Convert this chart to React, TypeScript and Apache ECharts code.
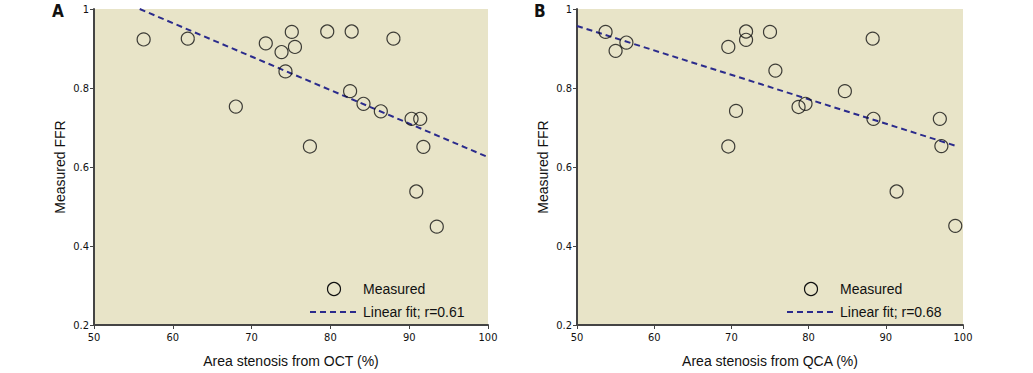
import React, { useEffect, useRef } from "react";
import * as echarts from "echarts";

// Panel A: OCT area stenosis vs measured FFR
const octStenosis = [56.3, 61.9, 68.0, 71.8, 73.8, 75.1, 75.5, 74.3, 77.4, 79.6, 82.7, 82.5, 84.2, 86.4, 88.0, 90.3, 91.4, 91.8, 90.9, 93.5];
const octFFR = [0.923, 0.925, 0.753, 0.913, 0.891, 0.942, 0.904, 0.842, 0.652, 0.943, 0.943, 0.792, 0.76, 0.741, 0.925, 0.722, 0.722, 0.651, 0.538, 0.449];
const octFitX = [55.8, 100];
const octFitY = [1.0, 0.625];

// Panel B: QCA area stenosis vs measured FFR
const qcaStenosis = [53.7, 55.0, 56.4, 69.6, 71.9, 71.9, 75.0, 75.7, 70.6, 69.6, 78.7, 79.6, 84.7, 88.3, 88.4, 97.0, 97.2, 91.4, 99.0];
const qcaFFR = [0.942, 0.894, 0.915, 0.904, 0.943, 0.922, 0.942, 0.844, 0.742, 0.652, 0.752, 0.76, 0.792, 0.925, 0.722, 0.722, 0.653, 0.538, 0.451];
const qcaFitX = [50, 99.0];
const qcaFitY = [0.957, 0.654];

const panelLetters = ["A", "B"];
const xNames = ["Area stenosis from OCT (%)", "Area stenosis from QCA (%)"];
const yName = "Measured FFR";
const legendNames = ["Measured", "Linear fit; r=0.61", "Linear fit; r=0.68"];

const BG = "#e8e4c8";
const AXIS = "#444444";
const FIT = "#2b2b8c";
const TICK_FONT = "'Liberation Sans Narrow', 'DejaVu Sans Condensed', sans-serif";
const NAME_FONT = "'Liberation Sans', Arial, sans-serif";

const zip = (xs: number[], ys: number[]) => xs.map((x, i) => [x, ys[i]]);

export default function App() {
  const ref = useRef<HTMLDivElement>(null);
  useEffect(() => {
    document.body.style.margin = "0";
    if (!ref.current) return;
    const chart = echarts.init(ref.current, null, { renderer: "svg" });

    const grids = [
      { left: 94, top: 9, width: 394, height: 320 },
      { left: 577, top: 9, width: 386, height: 320 },
    ];

    const xAxis = grids.map((_, i) => ({
      type: "value",
      gridIndex: i,
      min: 50,
      max: 100,
      interval: 10,
      name: xNames[i],
      nameLocation: "middle",
      nameGap: 29,
      nameTextStyle: { fontFamily: NAME_FONT, fontSize: 14, color: "#111" },
      axisLine: { show: true, onZero: false, lineStyle: { color: AXIS, width: 2 } },
      axisTick: { show: true, length: 4, lineStyle: { color: AXIS, width: 1 } },
      axisLabel: { fontFamily: TICK_FONT, fontSize: 11, color: "#111", margin: 7 },
      splitLine: { show: false },
    }));

    const yAxis = grids.map((_, i) => ({
      type: "value",
      gridIndex: i,
      min: 0.2,
      max: 1,
      interval: 0.2,
      name: yName,
      nameLocation: "middle",
      nameGap: 27,
      nameTextStyle: { fontFamily: NAME_FONT, fontSize: 14, color: "#111" },
      axisLine: { show: true, onZero: false, lineStyle: { color: AXIS, width: 2 } },
      axisTick: { show: true, length: 4, lineStyle: { color: AXIS, width: 1 } },
      axisLabel: { fontFamily: TICK_FONT, fontSize: 11, color: "#111", margin: 5 },
      splitLine: { show: false },
    }));

    const scatterStyle = {
      type: "scatter",
      symbol: "circle",
      symbolSize: 13,
      itemStyle: { color: "rgba(0,0,0,0)", borderColor: "#111", borderWidth: 1.2 },
    };
    const fitStyle = {
      type: "line",
      showSymbol: false,
      symbol: "none",
      lineStyle: { color: FIT, width: 2, type: [6, 4] },
    };

    const legend = (x0: number, label: string) => [
      {
        type: "circle",
        shape: { cx: x0 + 24, cy: 289, r: 6.5 },
        style: { fill: "none", stroke: "#111", lineWidth: 1.2 },
      },
      {
        type: "text",
        x: x0 + 53,
        y: 289,
        style: { text: legendNames[0], font: `14px ${NAME_FONT}`, fill: "#111", textVerticalAlign: "middle" },
      },
      {
        type: "line",
        shape: { x1: x0, y1: 312, x2: x0 + 48, y2: 312 },
        style: { stroke: FIT, lineWidth: 2, lineDash: [6, 4] },
      },
      {
        type: "text",
        x: x0 + 53,
        y: 312,
        style: { text: label, font: `14px ${NAME_FONT}`, fill: "#111", textVerticalAlign: "middle" },
      },
    ];

    chart.setOption({
      animation: false,
      grid: grids.map((g) => ({ ...g, show: true, backgroundColor: BG, borderWidth: 0 })),
      xAxis,
      yAxis,
      series: [
        { ...scatterStyle, xAxisIndex: 0, yAxisIndex: 0, data: zip(octStenosis, octFFR), z: 3 },
        { ...fitStyle, xAxisIndex: 0, yAxisIndex: 0, data: zip(octFitX, octFitY), z: 2 },
        { ...scatterStyle, xAxisIndex: 1, yAxisIndex: 1, data: zip(qcaStenosis, qcaFFR), z: 3 },
        { ...fitStyle, xAxisIndex: 1, yAxisIndex: 1, data: zip(qcaFitX, qcaFitY), z: 2 },
      ],
      graphic: [
        {
          type: "text",
          left: 52,
          top: 2,
          style: { text: panelLetters[0], font: `bold 17px ${TICK_FONT}`, fill: "#111" },
        },
        {
          type: "text",
          left: 534,
          top: 2,
          style: { text: panelLetters[1], font: `bold 17px ${TICK_FONT}`, fill: "#111" },
        },
        ...legend(310, legendNames[1]),
        ...legend(787, legendNames[2]),
      ],
    });
    return () => chart.dispose();
  }, []);
  return <div ref={ref} style={{ width: 1033, height: 373 }} />;
}
